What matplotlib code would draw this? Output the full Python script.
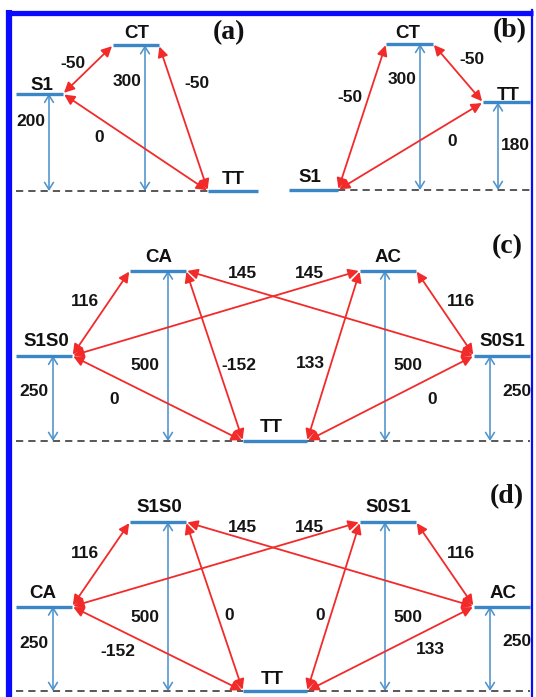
import matplotlib.pyplot as plt
from matplotlib.patches import FancyArrowPatch

W, H = 536, 697

# energies (meV) and couplings for each scheme
a_states = ["S1", "CT", "TT"]
a_energy = [200, 300, 0]
a_couplings = [(0, 1, -50), (1, 2, -50), (0, 2, 0)]

b_states = ["S1", "CT", "TT"]
b_energy = [0, 300, 180]
b_couplings = [(0, 1, -50), (1, 2, -50), (0, 2, 0)]

c_states = ["S1S0", "CA", "TT", "AC", "S0S1"]
c_energy = [250, 500, 0, 500, 250]
c_couplings = [(0, 1, 116), (1, 4, 145), (3, 0, 145), (1, 2, -152),
               (0, 2, 0), (3, 2, 133), (4, 2, 0), (3, 4, 116)]

d_states = ["CA", "S1S0", "TT", "S0S1", "AC"]
d_energy = [250, 500, 0, 500, 250]
d_couplings = [(0, 1, 116), (1, 4, 145), (3, 0, 145), (1, 2, 0),
               (0, 2, -152), (3, 2, 0), (4, 2, 133), (3, 4, 116)]

LEVEL = "#3a86c6"
GAP = "#4f93cc"
RED = "#f22a2a"
DASH = "#4a4a4a"
SANS = "Liberation Sans"
SERIF = "Liberation Serif"

# layout, all in pixels: box, baseline, px per meV, level spans, gap arrow x,
# text spots for the gaps and couplings, panel tag
panels = [
    dict(tag="(a)", tag_xy=(229, 33), box=(0, 16, 268, 215), base=191, ppu=0.486,
         states=a_states, energy=a_energy, couplings=a_couplings,
         spans=[(16, 63), (113, 159), (208, 258)],
         gap_x=[49, 145, None],
         gap_txt=[(31, 122), (127, 82), None],
         name_txt=[(42, 85), (137, 33), (233, 180)],
         cpl_txt=[(73, 63), (197, 83), (99, 137)],
         dash=[(16, 208)]),
    dict(tag="(b)", tag_xy=(510, 31), box=(268, 16, 536, 215), base=190, ppu=0.487,
         states=b_states, energy=b_energy, couplings=b_couplings,
         spans=[(289, 338), (386, 433), (483, 530)],
         gap_x=[None, 420, 498],
         gap_txt=[None, (402, 80), (515, 145)],
         name_txt=[(310, 178), (408, 33), (508, 95)],
         cpl_txt=[(350, 98), (472, 60), (452, 142)],
         dash=[(338, 530)]),
    dict(tag="(c)", tag_xy=(507, 247), box=(0, 215, 536, 465), base=441, ppu=0.341,
         states=c_states, energy=c_energy, couplings=c_couplings,
         spans=[(16, 72), (130, 186), (243, 307), (360, 416), (474, 530)],
         gap_x=[53, 168, None, 385, 490],
         gap_txt=[(34, 392), (145, 365), None, (408, 365), (517, 391)],
         name_txt=[(46, 342), (159, 257), (271, 427), (388, 257), (502, 342)],
         cpl_txt=[(85, 302), (242, 273), (309, 274), (239, 365),
                  (114, 399), (310, 364), (432, 400), (461, 302)],
         dash=[(16, 243), (307, 530)]),
    dict(tag="(d)", tag_xy=(507, 497), box=(0, 465, 536, 697), base=691, ppu=0.338,
         states=d_states, energy=d_energy, couplings=d_couplings,
         spans=[(16, 72), (130, 186), (243, 307), (360, 416), (474, 530)],
         gap_x=[53, 168, None, 385, 490],
         gap_txt=[(34, 643), (145, 617), None, (408, 617), (517, 642)],
         name_txt=[(43, 593), (159, 508), (272, 680), (388, 508), (503, 594)],
         cpl_txt=[(85, 553), (242, 527), (309, 527), (229, 616),
                  (118, 652), (320, 616), (430, 650), (461, 554)],
         dash=[(16, 243), (307, 530)]),
]

fig = plt.figure(figsize=(W / 100, H / 100), dpi=100)

# overlay in pixel units for the frame and all the writing
ov = fig.add_axes([0, 0, 1, 1], zorder=5)
ov.set_xlim(0, W)
ov.set_ylim(H, 0)
ov.axis("off")
ov.set_facecolor("none")

ov.plot([9, 9], [10, H], color="#0a0aff", lw=4.5, solid_capstyle="butt")
ov.plot([6.5, 533], [12.5, 12.5], color="#0a0aff", lw=3.8, solid_capstyle="butt")
ov.plot([531.5, 531.5], [10, H], color="#0a0aff", lw=1.6)

for p in panels:
    x0, y0, x1, y1 = p["box"]
    base, ppu = p["base"], p["ppu"]
    ax = fig.add_axes([x0 / W, 1 - y1 / H, (x1 - x0) / W, (y1 - y0) / H])
    ax.set_xlim(x0, x1)
    ax.set_ylim((base - y1) / ppu, (base - y0) / ppu)
    ax.axis("off")
    ax.set_facecolor("none")

    for d0, d1 in p["dash"]:
        ax.plot([d0, d1], [0, 0], color=DASH, lw=1.3, dashes=(4, 2.8))

    for (l, r), e in zip(p["spans"], p["energy"]):
        ax.plot([l, r], [e, e], color=LEVEL, lw=2.4, solid_capstyle="butt", zorder=3)

    for gx, e in zip(p["gap_x"], p["energy"]):
        if gx is None:
            continue
        ax.add_patch(FancyArrowPatch((gx, 0), (gx, e),
                                     arrowstyle="<->,head_length=0.32,head_width=0.2",
                                     mutation_scale=16, color=GAP, lw=1.15,
                                     shrinkA=0, shrinkB=0, zorder=2))

    for i, j, v in p["couplings"]:
        ci = sum(p["spans"][i]) / 2
        cj = sum(p["spans"][j]) / 2
        xi = p["spans"][i][1] if ci < cj else p["spans"][i][0]
        xj = p["spans"][j][0] if ci < cj else p["spans"][j][1]
        ax.add_patch(FancyArrowPatch((xi, p["energy"][i]), (xj, p["energy"][j]),
                                     arrowstyle="<|-|>,head_length=0.38,head_width=0.19",
                                     mutation_scale=16, color=RED, lw=1.3,
                                     shrinkA=1, shrinkB=1, zorder=4))

    for xy, e in zip(p["gap_txt"], p["energy"]):
        if xy is not None:
            ov.text(*xy, str(e), ha="center", va="center", fontsize=12.5,
                    family=SANS, weight="bold", color="#151515")
    for xy, n in zip(p["name_txt"], p["states"]):
        ov.text(*xy, n, ha="center", va="center", fontsize=13.5,
                family=SANS, weight="bold", color="#111111")
    for xy, (i, j, v) in zip(p["cpl_txt"], p["couplings"]):
        ov.text(*xy, str(v), ha="center", va="center", fontsize=12.5,
                family=SANS, weight="bold", color="#151515")
    ov.text(*p["tag_xy"], p["tag"], ha="center", va="center", fontsize=20,
            family=SERIF, weight="bold", color="#111111")

fig.savefig("out.png", dpi=100)
